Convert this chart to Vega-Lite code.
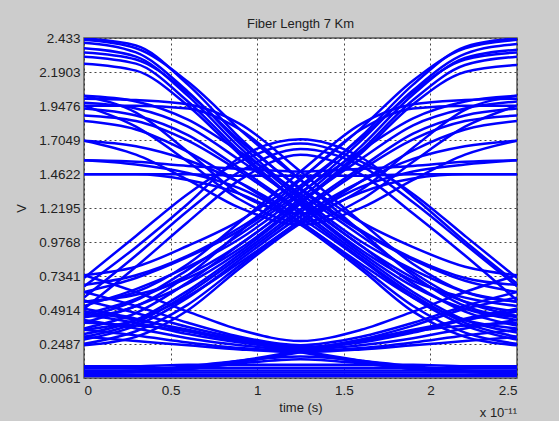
{
"$schema": "https://vega.github.io/schema/vega-lite/v6.json",
"autosize": "none",
"width": 433,
"height": 340,
"padding": {"left": 84, "top": 38, "right": 42, "bottom": 43},
"background": "#cccccc",
"title": {"text": "Fiber Length 7 Km", "fontSize": 13, "fontWeight": "normal", "font": "Liberation Sans", "color": "#222222", "offset": 0},
"config": {
  "view": {"fill": "white", "stroke": "#555555", "strokeWidth": 1.5},
  "axis": {"labelFont": "Liberation Sans", "titleFont": "Liberation Sans", "labelFontSize": 13.5, "titleFontSize": 13, "labelColor": "#222222", "titleColor": "#222222", "titleFontWeight": "normal", "ticks": false, "domain": false, "grid": true, "gridColor": "#333333", "gridDash": [2, 3], "gridWidth": 1, "gridOpacity": 0.9, "labelOverlap": false, "labelBound": false}
},
"layer": [
{
"data": {"values": [
{"s":"f1","t":0,"v":2.43},{"s":"f1","t":0.3,"v":2.38},{"s":"f1","t":0.6,"v":2.10},{"s":"f1","t":0.9,"v":1.72},{"s":"f1","t":1.25,"v":1.35},{"s":"f1","t":1.6,"v":1.05},{"s":"f1","t":1.9,"v":0.85},{"s":"f1","t":2.2,"v":0.70},{"s":"f1","t":2.5,"v":0.62},
{"s":"f2","t":0,"v":2.40},{"s":"f2","t":0.3,"v":2.33},{"s":"f2","t":0.6,"v":2.05},{"s":"f2","t":0.9,"v":1.68},{"s":"f2","t":1.25,"v":1.30},{"s":"f2","t":1.6,"v":0.98},{"s":"f2","t":1.9,"v":0.78},{"s":"f2","t":2.2,"v":0.62},{"s":"f2","t":2.5,"v":0.55},
{"s":"f3","t":0,"v":2.36},{"s":"f3","t":0.3,"v":2.30},{"s":"f3","t":0.6,"v":2.02},{"s":"f3","t":0.9,"v":1.65},{"s":"f3","t":1.25,"v":1.28},{"s":"f3","t":1.6,"v":0.95},{"s":"f3","t":1.9,"v":0.72},{"s":"f3","t":2.2,"v":0.55},{"s":"f3","t":2.5,"v":0.48},
{"s":"f4","t":0,"v":2.30},{"s":"f4","t":0.3,"v":2.25},{"s":"f4","t":0.6,"v":1.98},{"s":"f4","t":0.9,"v":1.62},{"s":"f4","t":1.25,"v":1.25},{"s":"f4","t":1.6,"v":0.92},{"s":"f4","t":1.9,"v":0.70},{"s":"f4","t":2.2,"v":0.58},{"s":"f4","t":2.5,"v":0.52},
{"s":"f5","t":0,"v":2.25},{"s":"f5","t":0.3,"v":2.20},{"s":"f5","t":0.6,"v":1.95},{"s":"f5","t":0.9,"v":1.60},{"s":"f5","t":1.25,"v":1.24},{"s":"f5","t":1.6,"v":0.90},{"s":"f5","t":1.9,"v":0.66},{"s":"f5","t":2.2,"v":0.50},{"s":"f5","t":2.5,"v":0.42},
{"s":"f6","t":0,"v":2.42},{"s":"f6","t":0.3,"v":2.36},{"s":"f6","t":0.6,"v":2.12},{"s":"f6","t":0.9,"v":1.78},{"s":"f6","t":1.25,"v":1.42},{"s":"f6","t":1.6,"v":1.12},{"s":"f6","t":1.9,"v":0.94},{"s":"f6","t":2.2,"v":0.80},{"s":"f6","t":2.5,"v":0.74},
{"s":"f7","t":0,"v":2.02},{"s":"f7","t":0.3,"v":1.98},{"s":"f7","t":0.6,"v":1.85},{"s":"f7","t":0.9,"v":1.62},{"s":"f7","t":1.25,"v":1.32},{"s":"f7","t":1.6,"v":1.02},{"s":"f7","t":1.9,"v":0.76},{"s":"f7","t":2.2,"v":0.55},{"s":"f7","t":2.5,"v":0.45},
{"s":"f8","t":0,"v":1.97},{"s":"f8","t":0.3,"v":1.93},{"s":"f8","t":0.6,"v":1.80},{"s":"f8","t":0.9,"v":1.56},{"s":"f8","t":1.25,"v":1.26},{"s":"f8","t":1.6,"v":0.95},{"s":"f8","t":1.9,"v":0.68},{"s":"f8","t":2.2,"v":0.48},{"s":"f8","t":2.5,"v":0.38},
{"s":"f9","t":0,"v":1.93},{"s":"f9","t":0.3,"v":1.88},{"s":"f9","t":0.6,"v":1.74},{"s":"f9","t":0.9,"v":1.50},{"s":"f9","t":1.25,"v":1.20},{"s":"f9","t":1.6,"v":0.88},{"s":"f9","t":1.9,"v":0.62},{"s":"f9","t":2.2,"v":0.42},{"s":"f9","t":2.5,"v":0.33},
{"s":"f10","t":0,"v":1.88},{"s":"f10","t":0.3,"v":1.84},{"s":"f10","t":0.6,"v":1.70},{"s":"f10","t":0.9,"v":1.48},{"s":"f10","t":1.25,"v":1.18},{"s":"f10","t":1.6,"v":0.86},{"s":"f10","t":1.9,"v":0.60},{"s":"f10","t":2.2,"v":0.40},{"s":"f10","t":2.5,"v":0.30},
{"s":"f11","t":0,"v":1.84},{"s":"f11","t":0.3,"v":1.78},{"s":"f11","t":0.6,"v":1.62},{"s":"f11","t":0.9,"v":1.40},{"s":"f11","t":1.25,"v":1.12},{"s":"f11","t":1.6,"v":0.82},{"s":"f11","t":1.9,"v":0.58},{"s":"f11","t":2.2,"v":0.42},{"s":"f11","t":2.5,"v":0.36},
{"s":"f12","t":0,"v":1.70},{"s":"f12","t":0.3,"v":1.66},{"s":"f12","t":0.6,"v":1.56},{"s":"f12","t":0.9,"v":1.40},{"s":"f12","t":1.25,"v":1.15},{"s":"f12","t":1.6,"v":0.85},{"s":"f12","t":1.9,"v":0.58},{"s":"f12","t":2.2,"v":0.38},{"s":"f12","t":2.5,"v":0.28},
{"s":"f13","t":0,"v":1.56},{"s":"f13","t":0.3,"v":1.53},{"s":"f13","t":0.6,"v":1.47},{"s":"f13","t":0.9,"v":1.36},{"s":"f13","t":1.25,"v":1.12},{"s":"f13","t":1.6,"v":0.80},{"s":"f13","t":1.9,"v":0.52},{"s":"f13","t":2.2,"v":0.33},{"s":"f13","t":2.5,"v":0.25},
{"s":"f14","t":0,"v":1.46},{"s":"f14","t":0.3,"v":1.46},{"s":"f14","t":0.6,"v":1.42},{"s":"f14","t":0.9,"v":1.32},{"s":"f14","t":1.25,"v":1.10},{"s":"f14","t":1.6,"v":0.78},{"s":"f14","t":1.9,"v":0.48},{"s":"f14","t":2.2,"v":0.30},{"s":"f14","t":2.5,"v":0.24},
{"s":"f15","t":0,"v":2.33},{"s":"f15","t":0.3,"v":2.28},{"s":"f15","t":0.6,"v":2.04},{"s":"f15","t":0.9,"v":1.70},{"s":"f15","t":1.25,"v":1.36},{"s":"f15","t":1.6,"v":1.06},{"s":"f15","t":1.9,"v":0.86},{"s":"f15","t":2.2,"v":0.72},{"s":"f15","t":2.5,"v":0.67},
{"s":"r1","t":0,"v":0.62},{"s":"r1","t":0.3,"v":0.72},{"s":"r1","t":0.6,"v":0.87},{"s":"r1","t":0.9,"v":1.06},{"s":"r1","t":1.25,"v":1.36},{"s":"r1","t":1.6,"v":1.73},{"s":"r1","t":1.9,"v":2.10},{"s":"r1","t":2.2,"v":2.37},{"s":"r1","t":2.5,"v":2.43},
{"s":"r2","t":0,"v":0.52},{"s":"r2","t":0.3,"v":0.64},{"s":"r2","t":0.6,"v":0.80},{"s":"r2","t":0.9,"v":1.00},{"s":"r2","t":1.25,"v":1.32},{"s":"r2","t":1.6,"v":1.70},{"s":"r2","t":1.9,"v":2.06},{"s":"r2","t":2.2,"v":2.32},{"s":"r2","t":2.5,"v":2.39},
{"s":"r3","t":0,"v":0.46},{"s":"r3","t":0.3,"v":0.57},{"s":"r3","t":0.6,"v":0.74},{"s":"r3","t":0.9,"v":0.96},{"s":"r3","t":1.25,"v":1.29},{"s":"r3","t":1.6,"v":1.66},{"s":"r3","t":1.9,"v":2.03},{"s":"r3","t":2.2,"v":2.29},{"s":"r3","t":2.5,"v":2.35},
{"s":"r4","t":0,"v":0.55},{"s":"r4","t":0.3,"v":0.60},{"s":"r4","t":0.6,"v":0.72},{"s":"r4","t":0.9,"v":0.93},{"s":"r4","t":1.25,"v":1.26},{"s":"r4","t":1.6,"v":1.63},{"s":"r4","t":1.9,"v":1.99},{"s":"r4","t":2.2,"v":2.24},{"s":"r4","t":2.5,"v":2.30},
{"s":"r5","t":0,"v":0.40},{"s":"r5","t":0.3,"v":0.52},{"s":"r5","t":0.6,"v":0.68},{"s":"r5","t":0.9,"v":0.91},{"s":"r5","t":1.25,"v":1.25},{"s":"r5","t":1.6,"v":1.61},{"s":"r5","t":1.9,"v":1.96},{"s":"r5","t":2.2,"v":2.19},{"s":"r5","t":2.5,"v":2.24},
{"s":"r6","t":0,"v":0.74},{"s":"r6","t":0.3,"v":0.80},{"s":"r6","t":0.6,"v":0.95},{"s":"r6","t":0.9,"v":1.13},{"s":"r6","t":1.25,"v":1.43},{"s":"r6","t":1.6,"v":1.79},{"s":"r6","t":1.9,"v":2.13},{"s":"r6","t":2.2,"v":2.36},{"s":"r6","t":2.5,"v":2.42},
{"s":"r7","t":0,"v":0.44},{"s":"r7","t":0.3,"v":0.56},{"s":"r7","t":0.6,"v":0.78},{"s":"r7","t":0.9,"v":1.03},{"s":"r7","t":1.25,"v":1.33},{"s":"r7","t":1.6,"v":1.63},{"s":"r7","t":1.9,"v":1.86},{"s":"r7","t":2.2,"v":1.98},{"s":"r7","t":2.5,"v":2.02},
{"s":"r8","t":0,"v":0.36},{"s":"r8","t":0.3,"v":0.47},{"s":"r8","t":0.6,"v":0.69},{"s":"r8","t":0.9,"v":0.96},{"s":"r8","t":1.25,"v":1.27},{"s":"r8","t":1.6,"v":1.57},{"s":"r8","t":1.9,"v":1.81},{"s":"r8","t":2.2,"v":1.93},{"s":"r8","t":2.5,"v":1.98},
{"s":"r9","t":0,"v":0.32},{"s":"r9","t":0.3,"v":0.42},{"s":"r9","t":0.6,"v":0.63},{"s":"r9","t":0.9,"v":0.89},{"s":"r9","t":1.25,"v":1.21},{"s":"r9","t":1.6,"v":1.51},{"s":"r9","t":1.9,"v":1.75},{"s":"r9","t":2.2,"v":1.88},{"s":"r9","t":2.5,"v":1.93},
{"s":"r10","t":0,"v":0.30},{"s":"r10","t":0.3,"v":0.40},{"s":"r10","t":0.6,"v":0.61},{"s":"r10","t":0.9,"v":0.87},{"s":"r10","t":1.25,"v":1.19},{"s":"r10","t":1.6,"v":1.49},{"s":"r10","t":1.9,"v":1.71},{"s":"r10","t":2.2,"v":1.84},{"s":"r10","t":2.5,"v":1.88},
{"s":"r11","t":0,"v":0.35},{"s":"r11","t":0.3,"v":0.42},{"s":"r11","t":0.6,"v":0.59},{"s":"r11","t":0.9,"v":0.83},{"s":"r11","t":1.25,"v":1.13},{"s":"r11","t":1.6,"v":1.41},{"s":"r11","t":1.9,"v":1.63},{"s":"r11","t":2.2,"v":1.78},{"s":"r11","t":2.5,"v":1.84},
{"s":"r12","t":0,"v":0.28},{"s":"r12","t":0.3,"v":0.38},{"s":"r12","t":0.6,"v":0.58},{"s":"r12","t":0.9,"v":0.85},{"s":"r12","t":1.25,"v":1.16},{"s":"r12","t":1.6,"v":1.41},{"s":"r12","t":1.9,"v":1.57},{"s":"r12","t":2.2,"v":1.66},{"s":"r12","t":2.5,"v":1.70},
{"s":"r13","t":0,"v":0.25},{"s":"r13","t":0.3,"v":0.34},{"s":"r13","t":0.6,"v":0.53},{"s":"r13","t":0.9,"v":0.81},{"s":"r13","t":1.25,"v":1.13},{"s":"r13","t":1.6,"v":1.37},{"s":"r13","t":1.9,"v":1.48},{"s":"r13","t":2.2,"v":1.53},{"s":"r13","t":2.5,"v":1.56},
{"s":"r14","t":0,"v":0.24},{"s":"r14","t":0.3,"v":0.30},{"s":"r14","t":0.6,"v":0.49},{"s":"r14","t":0.9,"v":0.79},{"s":"r14","t":1.25,"v":1.11},{"s":"r14","t":1.6,"v":1.33},{"s":"r14","t":1.9,"v":1.43},{"s":"r14","t":2.2,"v":1.46},{"s":"r14","t":2.5,"v":1.46},
{"s":"r15","t":0,"v":0.67},{"s":"r15","t":0.3,"v":0.74},{"s":"r15","t":0.6,"v":0.88},{"s":"r15","t":0.9,"v":1.08},{"s":"r15","t":1.25,"v":1.38},{"s":"r15","t":1.6,"v":1.72},{"s":"r15","t":1.9,"v":2.05},{"s":"r15","t":2.2,"v":2.28},{"s":"r15","t":2.5,"v":2.33},
{"s":"d1","t":0,"v":1.95},{"s":"d1","t":0.3,"v":1.95},{"s":"d1","t":0.6,"v":1.93},{"s":"d1","t":0.9,"v":1.78},{"s":"d1","t":1.25,"v":1.42},{"s":"d1","t":1.6,"v":1.05},{"s":"d1","t":1.9,"v":0.74},{"s":"d1","t":2.2,"v":0.52},{"s":"d1","t":2.5,"v":0.44},
{"s":"d2","t":0,"v":0.44},{"s":"d2","t":0.3,"v":0.52},{"s":"d2","t":0.6,"v":0.74},{"s":"d2","t":0.9,"v":1.05},{"s":"d2","t":1.25,"v":1.42},{"s":"d2","t":1.6,"v":1.78},{"s":"d2","t":1.9,"v":1.93},{"s":"d2","t":2.2,"v":1.95},{"s":"d2","t":2.5,"v":1.95},
{"s":"d3","t":0,"v":2.00},{"s":"d3","t":0.3,"v":1.99},{"s":"d3","t":0.6,"v":1.96},{"s":"d3","t":0.9,"v":1.82},{"s":"d3","t":1.25,"v":1.48},{"s":"d3","t":1.6,"v":1.12},{"s":"d3","t":1.9,"v":0.82},{"s":"d3","t":2.2,"v":0.62},{"s":"d3","t":2.5,"v":0.55},
{"s":"d4","t":0,"v":0.55},{"s":"d4","t":0.3,"v":0.62},{"s":"d4","t":0.6,"v":0.82},{"s":"d4","t":0.9,"v":1.12},{"s":"d4","t":1.25,"v":1.48},{"s":"d4","t":1.6,"v":1.82},{"s":"d4","t":1.9,"v":1.96},{"s":"d4","t":2.2,"v":1.99},{"s":"d4","t":2.5,"v":2.00},
{"s":"p1","t":0,"v":0.72},{"s":"p1","t":0.3,"v":1.02},{"s":"p1","t":0.6,"v":1.32},{"s":"p1","t":0.9,"v":1.55},{"s":"p1","t":1.25,"v":1.68},{"s":"p1","t":1.6,"v":1.55},{"s":"p1","t":1.9,"v":1.32},{"s":"p1","t":2.2,"v":1.02},{"s":"p1","t":2.5,"v":0.72},
{"s":"p2","t":0,"v":0.58},{"s":"p2","t":0.3,"v":0.88},{"s":"p2","t":0.6,"v":1.20},{"s":"p2","t":0.9,"v":1.48},{"s":"p2","t":1.25,"v":1.64},{"s":"p2","t":1.6,"v":1.52},{"s":"p2","t":1.9,"v":1.26},{"s":"p2","t":2.2,"v":0.96},{"s":"p2","t":2.5,"v":0.66},
{"s":"p3","t":0,"v":0.66},{"s":"p3","t":0.3,"v":0.94},{"s":"p3","t":0.6,"v":1.25},{"s":"p3","t":0.9,"v":1.58},{"s":"p3","t":1.25,"v":1.71},{"s":"p3","t":1.6,"v":1.58},{"s":"p3","t":1.9,"v":1.30},{"s":"p3","t":2.2,"v":0.98},{"s":"p3","t":2.5,"v":0.68},
{"s":"p4","t":0,"v":0.50},{"s":"p4","t":0.3,"v":0.80},{"s":"p4","t":0.6,"v":1.12},{"s":"p4","t":0.9,"v":1.42},{"s":"p4","t":1.25,"v":1.60},{"s":"p4","t":1.6,"v":1.46},{"s":"p4","t":1.9,"v":1.18},{"s":"p4","t":2.2,"v":0.88},{"s":"p4","t":2.5,"v":0.56},
{"s":"v1","t":0,"v":1.95},{"s":"v1","t":0.3,"v":1.80},{"s":"v1","t":0.6,"v":1.55},{"s":"v1","t":0.9,"v":1.28},{"s":"v1","t":1.25,"v":1.12},{"s":"v1","t":1.6,"v":1.28},{"s":"v1","t":1.9,"v":1.55},{"s":"v1","t":2.2,"v":1.80},{"s":"v1","t":2.5,"v":1.95},
{"s":"v2","t":0,"v":2.02},{"s":"v2","t":0.3,"v":1.90},{"s":"v2","t":0.6,"v":1.62},{"s":"v2","t":0.9,"v":1.32},{"s":"v2","t":1.25,"v":1.18},{"s":"v2","t":1.6,"v":1.35},{"s":"v2","t":1.9,"v":1.65},{"s":"v2","t":2.2,"v":1.92},{"s":"v2","t":2.5,"v":2.02},
{"s":"v3","t":0,"v":1.70},{"s":"v3","t":0.3,"v":1.60},{"s":"v3","t":0.6,"v":1.42},{"s":"v3","t":0.9,"v":1.22},{"s":"v3","t":1.25,"v":1.10},{"s":"v3","t":1.6,"v":1.22},{"s":"v3","t":1.9,"v":1.42},{"s":"v3","t":2.2,"v":1.60},{"s":"v3","t":2.5,"v":1.70},
{"s":"h1","t":0,"v":1.46},{"s":"h1","t":0.3,"v":1.46},{"s":"h1","t":0.6,"v":1.46},{"s":"h1","t":0.9,"v":1.45},{"s":"h1","t":1.25,"v":1.45},{"s":"h1","t":1.6,"v":1.45},{"s":"h1","t":1.9,"v":1.46},{"s":"h1","t":2.2,"v":1.46},{"s":"h1","t":2.5,"v":1.46},
{"s":"h5","t":0,"v":1.56},{"s":"h5","t":0.3,"v":1.55},{"s":"h5","t":0.6,"v":1.52},{"s":"h5","t":0.9,"v":1.50},{"s":"h5","t":1.25,"v":1.48},{"s":"h5","t":1.6,"v":1.50},{"s":"h5","t":1.9,"v":1.52},{"s":"h5","t":2.2,"v":1.55},{"s":"h5","t":2.5,"v":1.56},
{"s":"l1","t":0,"v":0.74},{"s":"l1","t":0.3,"v":0.62},{"s":"l1","t":0.6,"v":0.48},{"s":"l1","t":0.9,"v":0.35},{"s":"l1","t":1.25,"v":0.27},{"s":"l1","t":1.6,"v":0.35},{"s":"l1","t":1.9,"v":0.48},{"s":"l1","t":2.2,"v":0.62},{"s":"l1","t":2.5,"v":0.74},
{"s":"l2","t":0,"v":0.62},{"s":"l2","t":0.3,"v":0.52},{"s":"l2","t":0.6,"v":0.40},{"s":"l2","t":0.9,"v":0.30},{"s":"l2","t":1.25,"v":0.24},{"s":"l2","t":1.6,"v":0.30},{"s":"l2","t":1.9,"v":0.40},{"s":"l2","t":2.2,"v":0.52},{"s":"l2","t":2.5,"v":0.62},
{"s":"l3","t":0,"v":0.50},{"s":"l3","t":0.3,"v":0.43},{"s":"l3","t":0.6,"v":0.34},{"s":"l3","t":0.9,"v":0.27},{"s":"l3","t":1.25,"v":0.22},{"s":"l3","t":1.6,"v":0.27},{"s":"l3","t":1.9,"v":0.34},{"s":"l3","t":2.2,"v":0.43},{"s":"l3","t":2.5,"v":0.50},
{"s":"l4","t":0,"v":0.42},{"s":"l4","t":0.3,"v":0.36},{"s":"l4","t":0.6,"v":0.29},{"s":"l4","t":0.9,"v":0.24},{"s":"l4","t":1.25,"v":0.21},{"s":"l4","t":1.6,"v":0.24},{"s":"l4","t":1.9,"v":0.29},{"s":"l4","t":2.2,"v":0.36},{"s":"l4","t":2.5,"v":0.42},
{"s":"l5","t":0,"v":0.35},{"s":"l5","t":0.3,"v":0.31},{"s":"l5","t":0.6,"v":0.26},{"s":"l5","t":0.9,"v":0.22},{"s":"l5","t":1.25,"v":0.20},{"s":"l5","t":1.6,"v":0.22},{"s":"l5","t":1.9,"v":0.26},{"s":"l5","t":2.2,"v":0.31},{"s":"l5","t":2.5,"v":0.35},
{"s":"l6","t":0,"v":0.30},{"s":"l6","t":0.3,"v":0.27},{"s":"l6","t":0.6,"v":0.24},{"s":"l6","t":0.9,"v":0.21},{"s":"l6","t":1.25,"v":0.19},{"s":"l6","t":1.6,"v":0.21},{"s":"l6","t":1.9,"v":0.24},{"s":"l6","t":2.2,"v":0.27},{"s":"l6","t":2.5,"v":0.30},
{"s":"l7","t":0,"v":0.56},{"s":"l7","t":0.3,"v":0.47},{"s":"l7","t":0.6,"v":0.37},{"s":"l7","t":0.9,"v":0.29},{"s":"l7","t":1.25,"v":0.23},{"s":"l7","t":1.6,"v":0.26},{"s":"l7","t":1.9,"v":0.33},{"s":"l7","t":2.2,"v":0.42},{"s":"l7","t":2.5,"v":0.48},
{"s":"l8","t":0,"v":0.46},{"s":"l8","t":0.3,"v":0.40},{"s":"l8","t":0.6,"v":0.32},{"s":"l8","t":0.9,"v":0.26},{"s":"l8","t":1.25,"v":0.22},{"s":"l8","t":1.6,"v":0.28},{"s":"l8","t":1.9,"v":0.38},{"s":"l8","t":2.2,"v":0.50},{"s":"l8","t":2.5,"v":0.58},
{"s":"b1","t":0,"v":0.03},{"s":"b1","t":0.3,"v":0.03},{"s":"b1","t":0.6,"v":0.03},{"s":"b1","t":0.9,"v":0.03},{"s":"b1","t":1.25,"v":0.03},{"s":"b1","t":1.6,"v":0.03},{"s":"b1","t":1.9,"v":0.03},{"s":"b1","t":2.2,"v":0.03},{"s":"b1","t":2.5,"v":0.03},
{"s":"b2","t":0,"v":0.06},{"s":"b2","t":0.3,"v":0.06},{"s":"b2","t":0.6,"v":0.06},{"s":"b2","t":0.9,"v":0.06},{"s":"b2","t":1.25,"v":0.06},{"s":"b2","t":1.6,"v":0.06},{"s":"b2","t":1.9,"v":0.06},{"s":"b2","t":2.2,"v":0.06},{"s":"b2","t":2.5,"v":0.06},
{"s":"b3","t":0,"v":0.09},{"s":"b3","t":0.3,"v":0.09},{"s":"b3","t":0.6,"v":0.10},{"s":"b3","t":0.9,"v":0.10},{"s":"b3","t":1.25,"v":0.10},{"s":"b3","t":1.6,"v":0.10},{"s":"b3","t":1.9,"v":0.10},{"s":"b3","t":2.2,"v":0.09},{"s":"b3","t":2.5,"v":0.09},
{"s":"b10","t":0,"v":0.045},{"s":"b10","t":0.3,"v":0.045},{"s":"b10","t":0.6,"v":0.045},{"s":"b10","t":0.9,"v":0.045},{"s":"b10","t":1.25,"v":0.045},{"s":"b10","t":1.6,"v":0.045},{"s":"b10","t":1.9,"v":0.045},{"s":"b10","t":2.2,"v":0.045},{"s":"b10","t":2.5,"v":0.045},
{"s":"b11","t":0,"v":0.075},{"s":"b11","t":0.3,"v":0.075},{"s":"b11","t":0.6,"v":0.078},{"s":"b11","t":0.9,"v":0.08},{"s":"b11","t":1.25,"v":0.08},{"s":"b11","t":1.6,"v":0.08},{"s":"b11","t":1.9,"v":0.078},{"s":"b11","t":2.2,"v":0.075},{"s":"b11","t":2.5,"v":0.075},
{"s":"b12","t":0,"v":0.02},{"s":"b12","t":0.3,"v":0.02},{"s":"b12","t":0.6,"v":0.02},{"s":"b12","t":0.9,"v":0.02},{"s":"b12","t":1.25,"v":0.02},{"s":"b12","t":1.6,"v":0.02},{"s":"b12","t":1.9,"v":0.02},{"s":"b12","t":2.2,"v":0.02},{"s":"b12","t":2.5,"v":0.02},
{"s":"b4","t":0,"v":0.05},{"s":"b4","t":0.3,"v":0.06},{"s":"b4","t":0.6,"v":0.09},{"s":"b4","t":0.9,"v":0.13},{"s":"b4","t":1.25,"v":0.16},{"s":"b4","t":1.6,"v":0.13},{"s":"b4","t":1.9,"v":0.09},{"s":"b4","t":2.2,"v":0.06},{"s":"b4","t":2.5,"v":0.05},
{"s":"b5","t":0,"v":0.04},{"s":"b5","t":0.3,"v":0.05},{"s":"b5","t":0.6,"v":0.07},{"s":"b5","t":0.9,"v":0.11},{"s":"b5","t":1.25,"v":0.14},{"s":"b5","t":1.6,"v":0.11},{"s":"b5","t":1.9,"v":0.07},{"s":"b5","t":2.2,"v":0.05},{"s":"b5","t":2.5,"v":0.04},
{"s":"b6","t":0,"v":0.05},{"s":"b6","t":0.3,"v":0.05},{"s":"b6","t":0.6,"v":0.07},{"s":"b6","t":0.9,"v":0.12},{"s":"b6","t":1.25,"v":0.19},{"s":"b6","t":1.6,"v":0.27},{"s":"b6","t":1.9,"v":0.35},{"s":"b6","t":2.2,"v":0.42},{"s":"b6","t":2.5,"v":0.48},
{"s":"b7","t":0,"v":0.48},{"s":"b7","t":0.3,"v":0.42},{"s":"b7","t":0.6,"v":0.35},{"s":"b7","t":0.9,"v":0.27},{"s":"b7","t":1.25,"v":0.19},{"s":"b7","t":1.6,"v":0.12},{"s":"b7","t":1.9,"v":0.07},{"s":"b7","t":2.2,"v":0.05},{"s":"b7","t":2.5,"v":0.05},
{"s":"b8","t":0,"v":0.04},{"s":"b8","t":0.3,"v":0.05},{"s":"b8","t":0.6,"v":0.08},{"s":"b8","t":0.9,"v":0.13},{"s":"b8","t":1.25,"v":0.20},{"s":"b8","t":1.6,"v":0.28},{"s":"b8","t":1.9,"v":0.34},{"s":"b8","t":2.2,"v":0.38},{"s":"b8","t":2.5,"v":0.40},
{"s":"b9","t":0,"v":0.40},{"s":"b9","t":0.3,"v":0.38},{"s":"b9","t":0.6,"v":0.34},{"s":"b9","t":0.9,"v":0.28},{"s":"b9","t":1.25,"v":0.20},{"s":"b9","t":1.6,"v":0.13},{"s":"b9","t":1.9,"v":0.08},{"s":"b9","t":2.2,"v":0.05},{"s":"b9","t":2.5,"v":0.04}
]},
"mark": {"type": "line", "interpolate": "monotone", "strokeWidth": 2.5, "color": "#0000ff", "clip": true},
"encoding": {
  "x": {"field": "t", "type": "quantitative", "scale": {"domain": [0, 2.5], "nice": false, "zero": false},
        "axis": {"values": [0, 0.5, 1, 1.5, 2, 2.5], "tickCount": 12, "format": "~g", "title": "time (s)", "labelPadding": 5, "titlePadding": 5, "labelOverlap": false}},
  "y": {"field": "v", "type": "quantitative", "scale": {"domain": [0.0061, 2.433], "nice": false, "zero": false},
        "axis": {"values": [0.0061, 0.2487, 0.4914, 0.7341, 0.9768, 1.2195, 1.4622, 1.7049, 1.9476, 2.1903, 2.433], "tickCount": 20, "format": ".5~r", "title": "V", "labelPadding": 4, "titlePadding": 10, "labelOverlap": false, "labelSeparation": 0}},
  "detail": {"field": "s"}
}
},
{
"data": {"values": [{"lab": "x 10⁻¹¹"}]},
"mark": {"type": "text", "align": "right", "baseline": "top", "dy": 29, "dx": 0, "font": "Liberation Sans", "fontSize": 13, "color": "#222222", "clip": false},
"encoding": {"x": {"datum": 2.5}, "y": {"datum": 0.0061}, "text": {"field": "lab"}}
}
]
}
